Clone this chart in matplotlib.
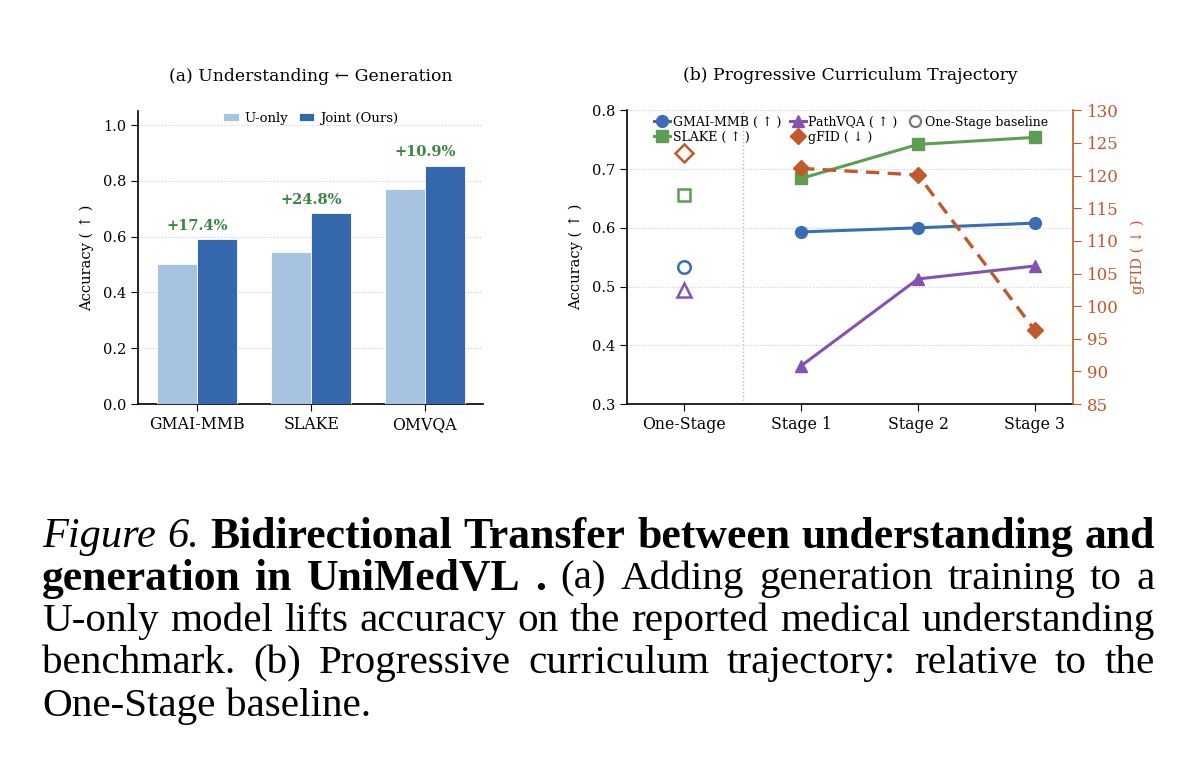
import matplotlib.pyplot as plt
import numpy as np

# panel (a) data
benchmarks = ["GMAI-MMB", "SLAKE", "OMVQA"]
u_only = [0.503, 0.546, 0.770]
joint = [0.591, 0.683, 0.855]
gains = ["+17.4%", "+24.8%", "+10.9%"]

# panel (b) data
stages = ["One-Stage", "Stage 1", "Stage 2", "Stage 3"]
gmai_curve = [0.593, 0.600, 0.608]
slake_curve = [0.684, 0.742, 0.754]
pathvqa_curve = [0.365, 0.513, 0.535]
gfid_curve = [121.1, 120.1, 96.3]
base_gmai = 0.534
base_slake = 0.656
base_pathvqa = 0.494
base_gfid = 123.4

C_LIGHT = "#a7c3e2"
C_DARK = "#3567ad"
C_BLUE = "#3b6db4"
C_GREEN = "#5c9e52"
C_PURPLE = "#8552b3"
C_ORANGE = "#c0592b"
C_GAIN = "#3a8544"

plt.rcParams['font.family'] = ['DejaVu Serif']
plt.rcParams['font.size'] = 10

fig = plt.figure(figsize=(12, 7.77), dpi=100)

# ---- (a) bars
ax1 = fig.add_axes([0.115, 0.48, 0.2875, 0.377])
x = np.arange(len(benchmarks))
w = 0.35
ax1.bar(x - w / 2, u_only, w, color=C_LIGHT, edgecolor="white", linewidth=0.6, label="U-only", zorder=3)
ax1.bar(x + w / 2, joint, w, color=C_DARK, edgecolor="white", linewidth=0.6, label="Joint (Ours)", zorder=3)
for i, g in enumerate(gains):
    ax1.text(x[i], joint[i] + 0.022, g, ha="center", va="bottom", color=C_GAIN,
             fontweight="bold", fontsize=10.5)
ax1.set_xticks(x)
ax1.set_xticklabels(benchmarks)
ax1.set_ylim(0, 1.05)
ax1.set_xlim(-0.52, 2.51)
ax1.set_yticks([0.0, 0.2, 0.4, 0.6, 0.8, 1.0])
ax1.tick_params(axis="y", labelsize=10.5, length=5)
ax1.tick_params(axis="x", labelsize=11.3, length=5)
ax1.set_ylabel("Accuracy ( ↑ )", fontsize=10.5, labelpad=6)
ax1.yaxis.grid(True, linestyle=":", color="#cccccc", linewidth=0.8, zorder=0)
ax1.spines["top"].set_visible(False)
ax1.spines["right"].set_visible(False)
ax1.spines["left"].set_linewidth(1.2)
ax1.spines["bottom"].set_linewidth(1.2)
ax1.set_title("(a) Understanding ← Generation", fontsize=12.4, pad=22)
ax1.legend(loc="upper center", ncol=2, frameon=False, fontsize=9.5, handlelength=1.2,
           handleheight=0.6, columnspacing=0.8, handletextpad=0.4, borderaxespad=0.1,
           bbox_to_anchor=(0.5, 1.02))

# ---- (b) curriculum
ax2 = fig.add_axes([0.5225, 0.48, 0.372, 0.378])
xs = np.arange(1, 4)
l1, = ax2.plot(xs, gmai_curve, "-o", color=C_BLUE, lw=2.2, ms=8.5, zorder=4)
l2, = ax2.plot(xs, slake_curve, "-s", color=C_GREEN, lw=2.2, ms=8.5, zorder=4)
l3, = ax2.plot(xs, pathvqa_curve, "-^", color=C_PURPLE, lw=2.2, ms=9, zorder=4)
ax2.plot(0, base_gmai, "o", mfc="white", mec=C_BLUE, mew=1.8, ms=9, zorder=4)
ax2.plot(0, base_slake, "s", mfc="white", mec=C_GREEN, mew=1.8, ms=9, zorder=4)
ax2.plot(0, base_pathvqa, "^", mfc="white", mec=C_PURPLE, mew=1.8, ms=9.5, zorder=4)
ax2.axvline(0.5, color="#bbbbbb", linestyle=":", linewidth=1.0, zorder=1)
ax2.set_xticks(range(len(stages)))
ax2.set_xticklabels(stages)
ax2.set_xlim(-0.49, 3.33)
ax2.set_ylim(0.3, 0.8)
ax2.set_yticks([0.3, 0.4, 0.5, 0.6, 0.7, 0.8])
ax2.tick_params(axis="y", labelsize=10.5, length=5)
ax2.tick_params(axis="x", labelsize=11.3, length=5)
ax2.set_ylabel("Accuracy ( ↑ )", fontsize=10.5, labelpad=6)
ax2.yaxis.grid(True, linestyle=":", color="#cccccc", linewidth=0.8, zorder=0)
ax2.spines["top"].set_visible(False)
ax2.spines["right"].set_visible(False)
ax2.spines["left"].set_linewidth(1.2)
ax2.spines["bottom"].set_linewidth(1.2)
ax2.set_title("(b) Progressive Curriculum Trajectory", fontsize=12.4, pad=22)

ax3 = ax2.twinx()
l4, = ax3.plot(xs, gfid_curve, "--D", color=C_ORANGE, lw=2.4, ms=8, dashes=(4, 2.5), zorder=4)
ax3.plot(0, base_gfid, "D", mfc="white", mec=C_ORANGE, mew=1.8, ms=9, zorder=4)
ax3.set_ylim(85, 130)
ax3.set_yticks(range(85, 131, 5))
ax3.tick_params(axis="y", colors=C_ORANGE, labelsize=12, length=6)
ax3.set_ylabel("gFID ( ↓ )", color=C_ORANGE, fontsize=10.5, labelpad=9)
ax3.spines["right"].set_color(C_ORANGE)
ax3.spines["right"].set_linewidth(1.2)
ax3.spines["top"].set_visible(False)
ax3.spines["left"].set_visible(False)
ax3.spines["bottom"].set_visible(False)

base_handle, = ax2.plot([], [], "o", mfc="white", mec="#777777", mew=1.6, ms=8)
ax3.legend([l1, l2, l3, l4, base_handle],
           ["GMAI-MMB ( ↑ )", "SLAKE ( ↑ )", "PathVQA ( ↑ )", "gFID ( ↓ )", "One-Stage baseline"],
           loc="upper left", ncol=3, frameon=False, fontsize=9, handlelength=1.3,
           columnspacing=0.7, handletextpad=0.2, labelspacing=0.15,
           bbox_to_anchor=(0.035, 1.02))

# ---- caption, justified word by word
caption_lines = [
    [("Figure 6.", "italic"), ("Bidirectional Transfer between understanding and", "bold")],
    [("generation in UniMedVL .", "bold"), ("(a) Adding generation training to a", "normal")],
    [("U-only model lifts accuracy on the reported medical understanding", "normal")],
    [("benchmark. (b) Progressive curriculum trajectory: relative to the", "normal")],
    [("One-Stage baseline.", "normal")],
]
cap_left, cap_right = 42 / 1200, 1155 / 1200
cap_top = 537
cap_step = 42.3
cap_sizes = {"normal": 29.6, "bold": 31.5, "italic": 30.5}
renderer = fig.canvas.get_renderer()


def style_kw(style):
    kw = dict(family="Liberation Serif", fontsize=cap_sizes[style], va="center", ha="left")
    if style == "italic":
        kw["style"] = "italic"
    elif style == "bold":
        kw["weight"] = "bold"
    return kw


for li, segs in enumerate(caption_lines):
    words = []
    for txt, st in segs:
        for wd in txt.split():
            words.append((wd, st))
    y = 1 - (cap_top + li * cap_step) / 777
    arts = [fig.text(0, y, wd, **style_kw(st)) for wd, st in words]
    widths = [a.get_window_extent(renderer).width / 1200 for a in arts]
    last = li == len(caption_lines) - 1
    if last:
        gap = 0.25 * cap_sizes["normal"] * 100 / 72 / 1200
    else:
        gap = (cap_right - cap_left - sum(widths)) / (len(words) - 1)
    xpos = cap_left
    for a, wdt in zip(arts, widths):
        a.set_x(xpos)
        xpos += wdt + gap

fig.savefig("out.png", dpi=100)
